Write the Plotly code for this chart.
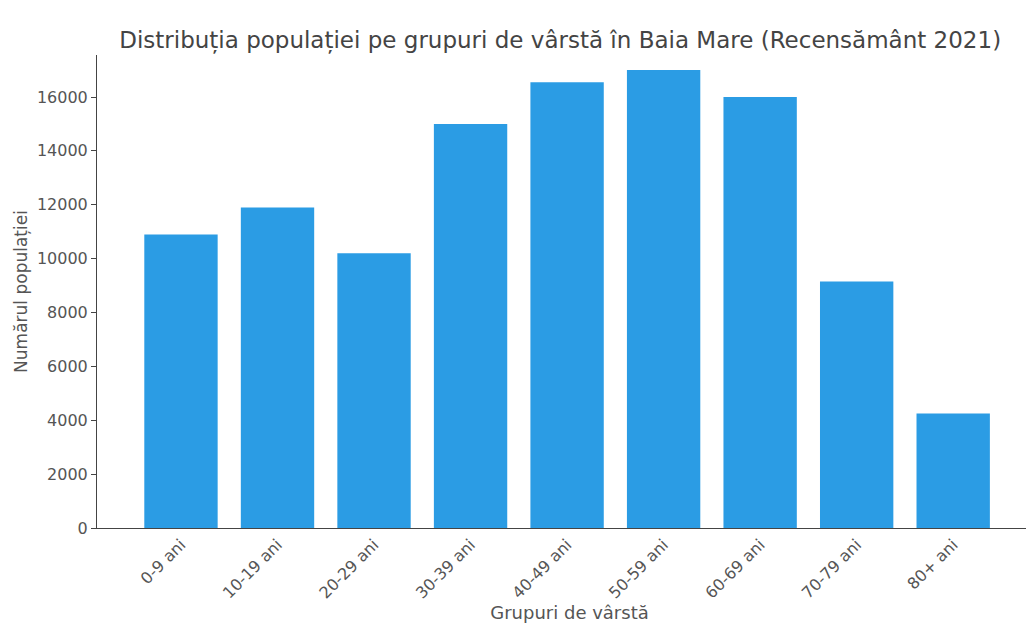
import plotly.graph_objects as go

categories = ["0-9 ani", "10-19 ani", "20-29 ani", "30-39 ani", "40-49 ani",
              "50-59 ani", "60-69 ani", "70-79 ani", "80+ ani"]
population = [10900, 11900, 10200, 15000, 16550, 17000, 16000, 9150, 4250]

title_text = "Distribuția populației pe grupuri de vârstă în Baia Mare (Recensământ 2021)"
x_title = "Grupuri de vârstă"
y_title = "Numărul populației"

fig = go.Figure(go.Bar(x=categories, y=population, marker_color="#2B9CE4",
                       marker_line_width=0))

fig.update_layout(
    width=1034, height=623,
    template="simple_white",
    font=dict(family="DejaVu Sans", size=16, color="#555"),
    title=dict(text=title_text, x=0.534, xanchor="center", y=0.949, yanchor="middle",
               font=dict(size=23, color="#444")),
    margin=dict(l=89, r=0, t=47, b=103),
    bargap=0.24,
    showlegend=False,
)
fig.update_xaxes(title_text=x_title, tickangle=-45, range=[-0.87, 8.92],
                 ticks="", showline=True, linecolor="#444", automargin=False,
                 tickfont=dict(size=16),
                 title_font=dict(size=18, color="#555"), title_standoff=0)
fig.update_yaxes(title_text=y_title, tickformat="d", range=[0, 17560],
                 tickvals=[0, 2000, 4000, 6000, 8000, 10000, 12000, 14000, 16000],
                 ticks="outside", ticklen=5, showline=True, linecolor="#444",
                 automargin=False, tickfont=dict(size=16),
                 title_font=dict(size=17, color="#555"), title_standoff=4)

fig.write_html("out.html")
